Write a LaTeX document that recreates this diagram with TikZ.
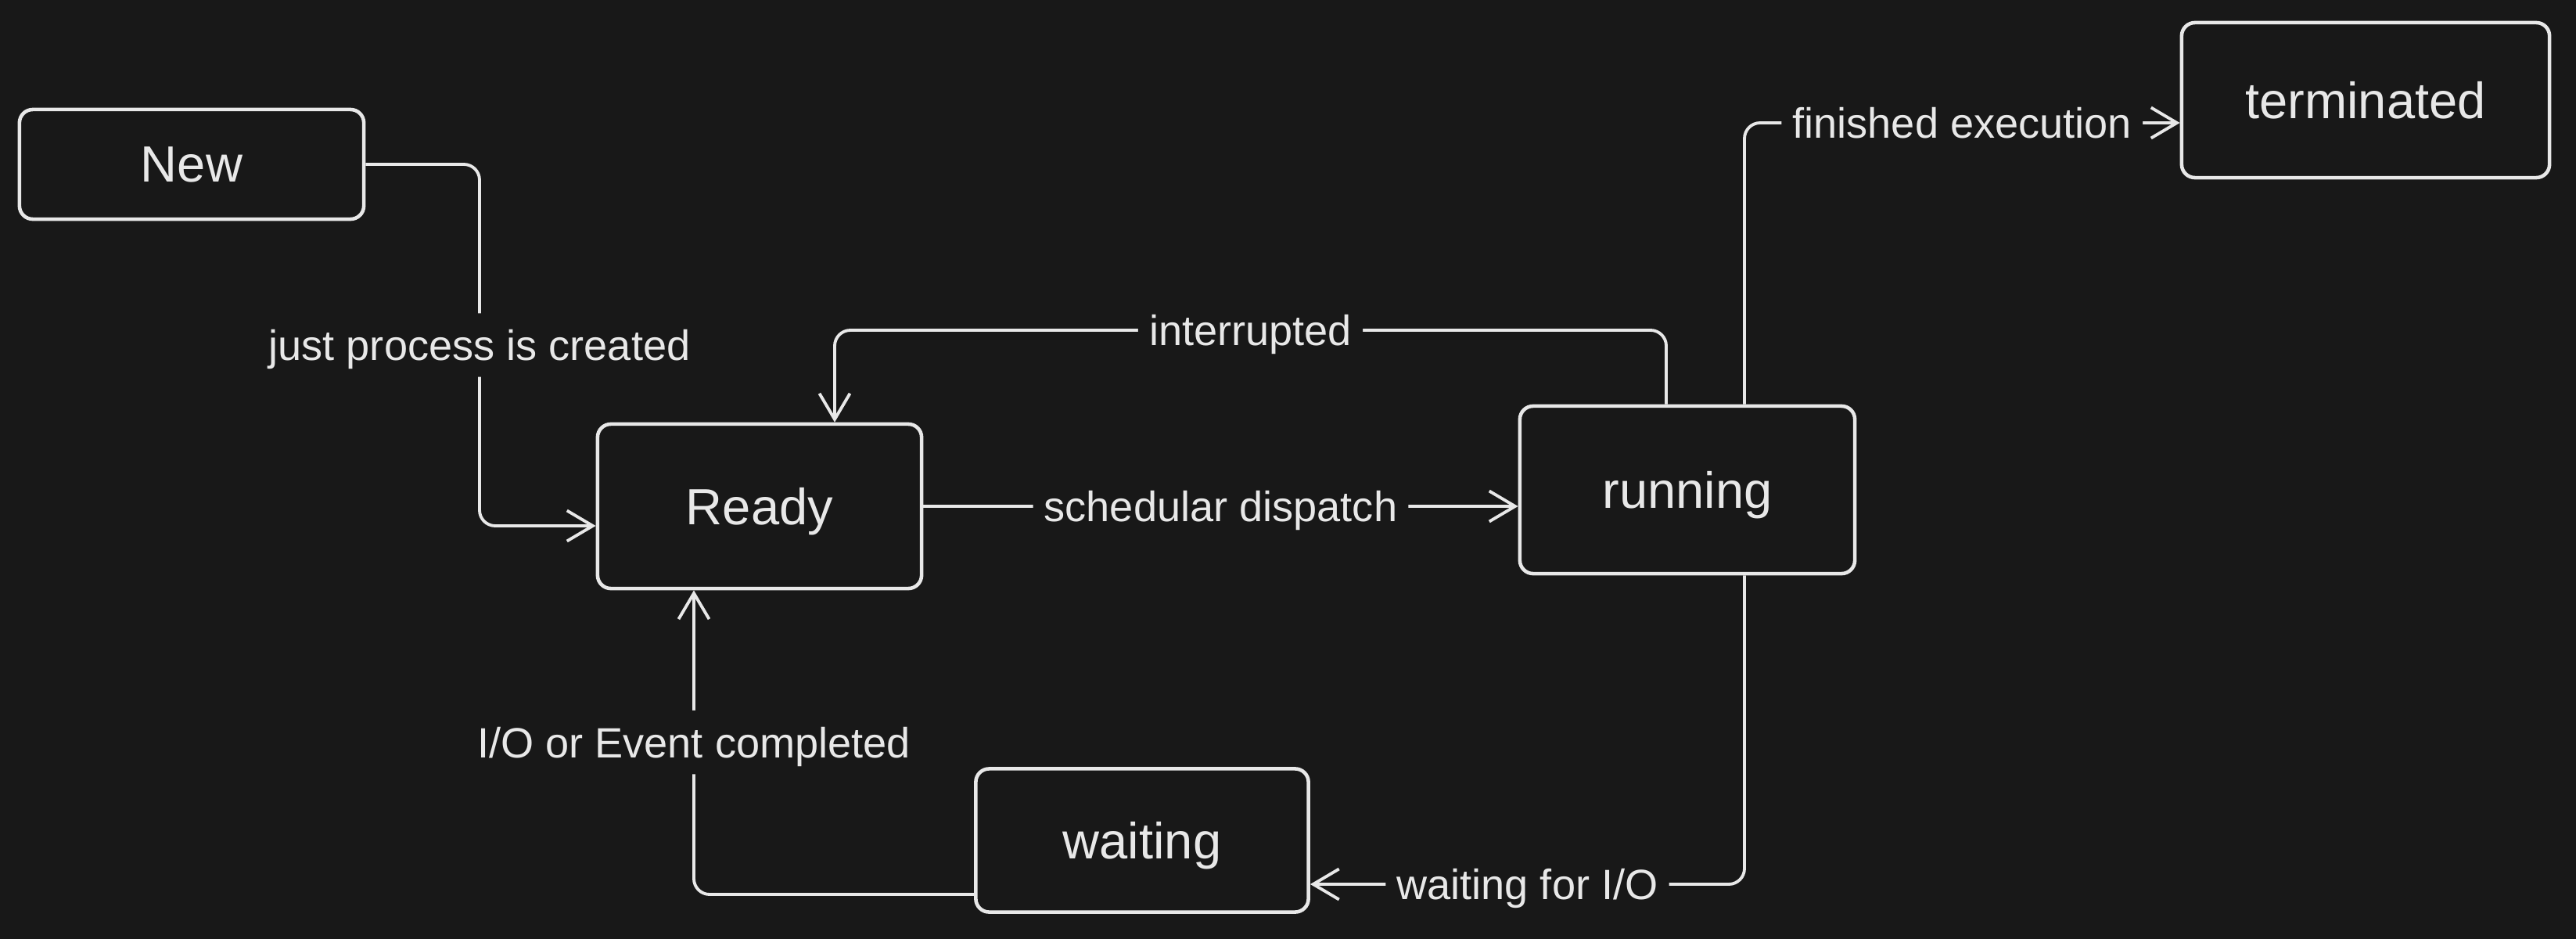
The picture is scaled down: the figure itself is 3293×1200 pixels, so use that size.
\documentclass[tikz,border=0pt]{standalone}
\usepackage{fontspec}
\setmainfont{Liberation Sans}
\usetikzlibrary{arrows.meta,calc}
\definecolor{bgc}{HTML}{181818}
\definecolor{fgc}{HTML}{E8E8E8}
\tikzset{
  statebox/.style={draw=fgc, line width=1.3pt, rounded corners=0.17cm, fill=bgc,
    text=fgc, font=\fontsize{18.5}{22}\selectfont, inner sep=0pt, anchor=center,
    text depth=0pt},
  conn/.style={draw=fgc, line width=1.1pt, rounded corners=0.2cm,
    -{Straight Barb[length=3.3mm,width=3.9mm,line width=1.1pt]}},
  lbl/.style={fill=bgc, text=fgc, font=\fontsize{15.4}{18}\selectfont,
    inner xsep=4pt, inner ysep=6pt, text depth=0pt}
}
\begin{document}
\begin{tikzpicture}[x=0.01cm,y=-0.01cm]
\fill[bgc] (0,0) rectangle (3293,1200);
\useasboundingbox (0,0) rectangle (3293,1200);

\node[statebox, minimum width=4.4cm, minimum height=1.4cm] (New) at (245,210) {New};
\node[statebox, minimum width=4.14cm, minimum height=2.1cm] (Ready) at (971,647) {Ready};
\node[statebox, minimum width=4.28cm, minimum height=2.14cm] (running) at (2157,626) {running};
\node[statebox, minimum width=4.7cm, minimum height=1.98cm] (terminated) at (3024,128) {terminated};
\node[statebox, minimum width=4.25cm, minimum height=1.83cm] (waiting) at (1460,1074) {waiting};

\coordinate (c1) at (613,672);
\coordinate (i1) at (2130,422);
\coordinate (i2) at (1067,422);
\coordinate (f1) at (2230,157);
\coordinate (w1) at (2230,1130);
\coordinate (e1) at (887,1143);

% New -> Ready
\draw[conn] (New.east) -| node[lbl,pos=0.75]{just process is created} (c1) -- (c1 -| Ready.west);
% Ready -> running
\draw[conn] (Ready.east) -- node[lbl]{schedular dispatch} (Ready.east -| running.west);
% running -> Ready (interrupted)
\draw[conn] (i1 |- running.north) -- (i1) -- node[lbl]{interrupted} (i2) -- (i2 |- Ready.north);
% running -> terminated
\draw[conn] (f1 |- running.north) -- (f1) -- node[lbl]{finished execution} (f1 -| terminated.west);
% running -> waiting
\draw[conn] (w1 |- running.south) -- (w1) -- node[lbl]{waiting for I/O} (w1 -| waiting.east);
% waiting -> Ready
\draw[conn] (e1 -| waiting.west) -- (e1) -- node[lbl]{I/O or Event completed} (e1 |- Ready.south);
\end{tikzpicture}
\end{document}
